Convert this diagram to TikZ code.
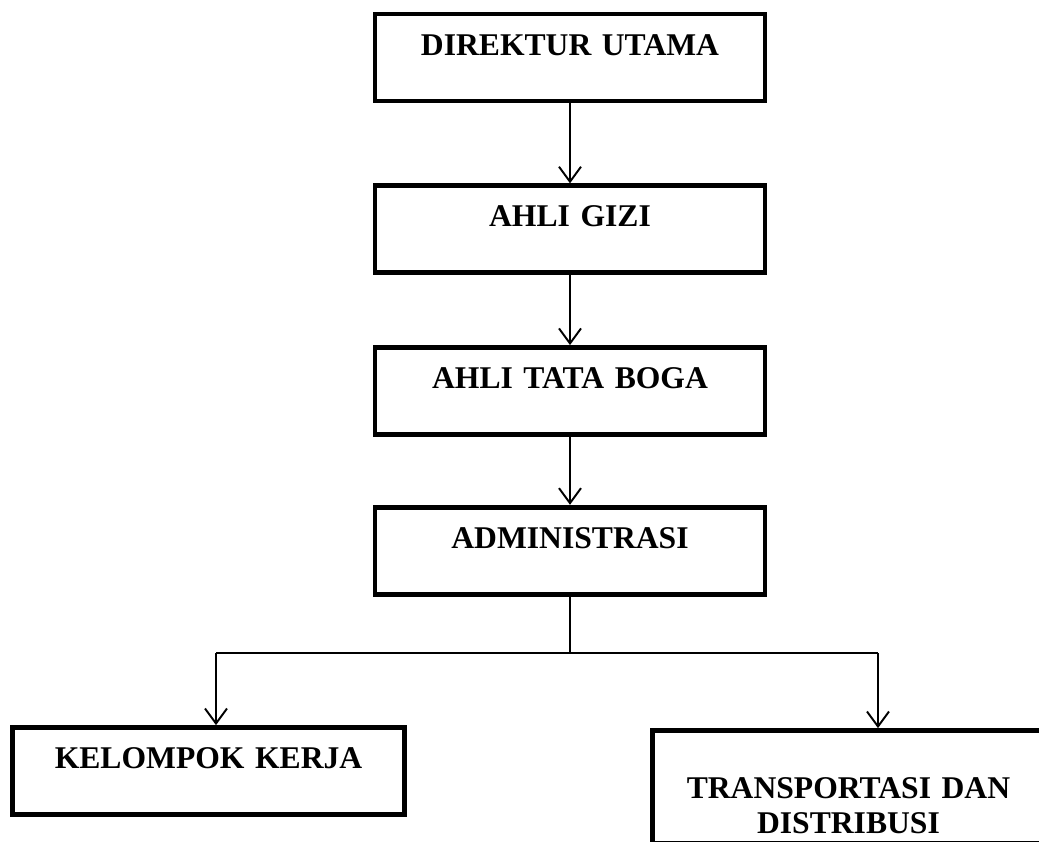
\documentclass[tikz,border=0pt]{standalone}
\usepackage{fontspec}
\setmainfont{Liberation Serif}
\usetikzlibrary{arrows.meta,positioning}
\tikzset{
  unit/.style={draw=black,line width=2.7pt,rectangle,inner sep=0pt,
               text width=7.8cm,align=center,
               text height=0.82cm,text depth=0.92cm,
               font=\fontsize{18}{20}\selectfont\bfseries},
  arr/.style={-{Straight Barb[length=3mm,width=4.4mm,line width=1.1pt]},line width=1.05pt},
  link/.style={line width=1.05pt},
}

\begin{document}
\begin{tikzpicture}[x=0.02cm,y=-0.02cm]
    \path[use as bounding box,clip] (0,0) rectangle (1039,842);
    \node[unit] (dir) at (570,57.5) {DIREKTUR UTAMA};
    \node[unit,below=1.6cm of dir] (gizi) {AHLI GIZI};
    \node[unit,below=1.4cm of gizi] (boga) {AHLI TATA BOGA};
    \node[unit,below=1.36cm of boga] (adm) {ADMINISTRASI};
    \node[unit,text width=7.84cm] (kel) at (208.5,771) {KELOMPOK KERJA};
    \node[unit,text width=7.84cm,text height=1.35cm,text depth=0.91cm] (trans) at (848.5,787)
      {TRANSPORTASI DAN\\DISTRIBUSI};
    \coordinate (bl) at (216,653);
    \coordinate (br) at (878,653);
    \draw[arr] (dir) -- (gizi);
    \draw[arr] (gizi) -- (boga);
    \draw[arr] (boga) -- (adm);
    \draw[link] (adm.south) -- (adm.south |- bl);
    \draw[link] (bl) -- (br);
    \draw[arr] (bl) -- (bl |- kel.north);
    \draw[arr] (br) -- (br |- trans.north);
  \end{tikzpicture}
\end{document}
